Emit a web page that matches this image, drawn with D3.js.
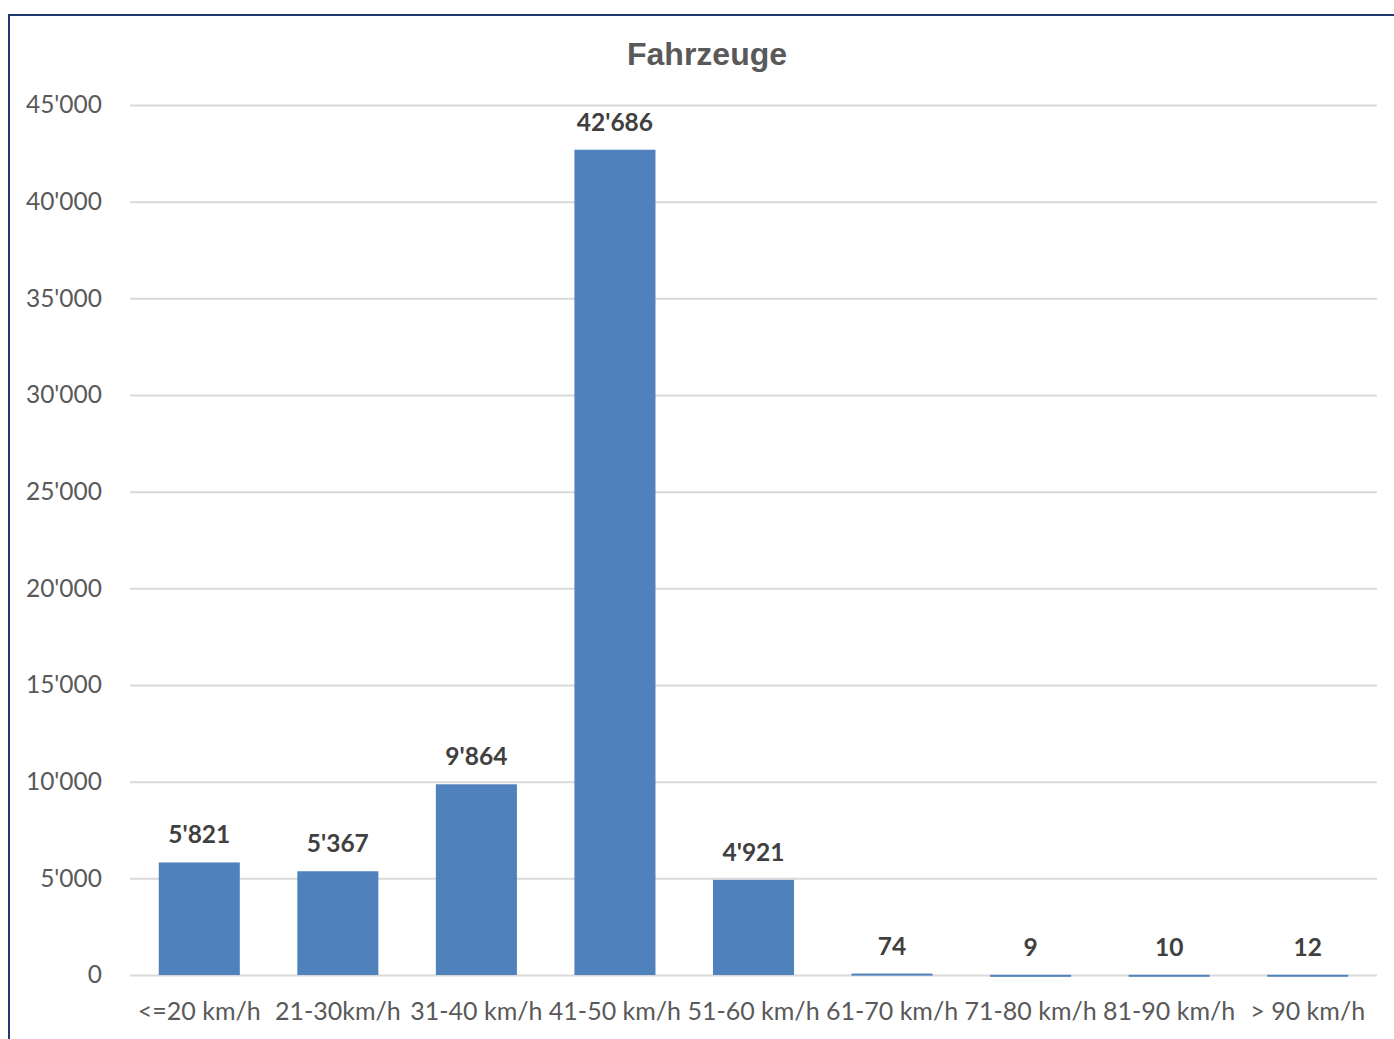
<!DOCTYPE html>
<html><head><meta charset="utf-8">
<script src="https://cdn.jsdelivr.net/npm/d3@7"></script>
<style>body{margin:0;background:#fff;}svg{display:block;}</style>
</head><body>
<script>
const categories = ["<=20 km/h","21-30km/h","31-40 km/h","41-50 km/h","51-60 km/h","61-70 km/h","71-80 km/h","81-90 km/h","> 90 km/h"];
const values = [5821,5367,9864,42686,4921,74,9,10,12];
const yTicks = [0,5000,10000,15000,20000,25000,30000,35000,40000,45000];
const title = "Fahrzeuge";

const W=1394,H=1039;
const svg=d3.select("body").append("svg").attr("width",W).attr("height",H);
svg.append("rect").attr("x",9).attr("y",15).attr("width",W).attr("height",H).attr("fill","#fff").attr("stroke","#1f3a6e").attr("stroke-width",2);

const fmt=v=>d3.format(",")(v).replace(/,/g,"'");
const x=d3.scaleBand().domain(categories).range([130,1377]).paddingInner(0.415).paddingOuter(0.2075);
const y=d3.scaleLinear().domain([0,45000]).range([975,105]);
const font="Lato, 'Open Sans', sans-serif";

svg.append("text").attr("x",707).attr("y",65).attr("text-anchor","middle")
 .attr("font-family","'Liberation Sans', Arial, sans-serif").attr("font-weight","bold").attr("font-size",32).attr("fill","#595959").text(title);

const ga=svg.append("g").attr("transform","translate(130,0)")
 .call(d3.axisLeft(y).tickValues(yTicks).tickSize(-1247).tickFormat(fmt).tickPadding(28));
ga.select(".domain").remove();
ga.selectAll("line").attr("stroke","#d9d9d9").attr("stroke-width",2);
ga.selectAll("text").attr("font-family",font).attr("font-size",24.5).attr("fill","#595959");

const gx=svg.append("g").attr("transform","translate(0,975)")
 .call(d3.axisBottom(x).tickSize(0).tickPadding(27));
gx.select(".domain").remove();
gx.selectAll("text").attr("font-family",font).attr("font-size",25).attr("fill","#595959");

svg.append("g").selectAll("rect").data(values).join("rect")
 .attr("x",(d,i)=>x(categories[i])).attr("width",x.bandwidth())
 .attr("y",d=>y(d)).attr("height",d=>Math.max(2,975-y(d))).attr("fill","#4f81bd");

svg.append("g").selectAll("text").data(values).join("text")
 .attr("x",(d,i)=>x(categories[i])+x.bandwidth()/2).attr("y",d=>y(d)-19)
 .attr("text-anchor","middle").attr("font-family",font).attr("font-weight","bold").attr("font-size",24.5).attr("fill","#404040")
 .text(fmt);
</script>
</body></html>
